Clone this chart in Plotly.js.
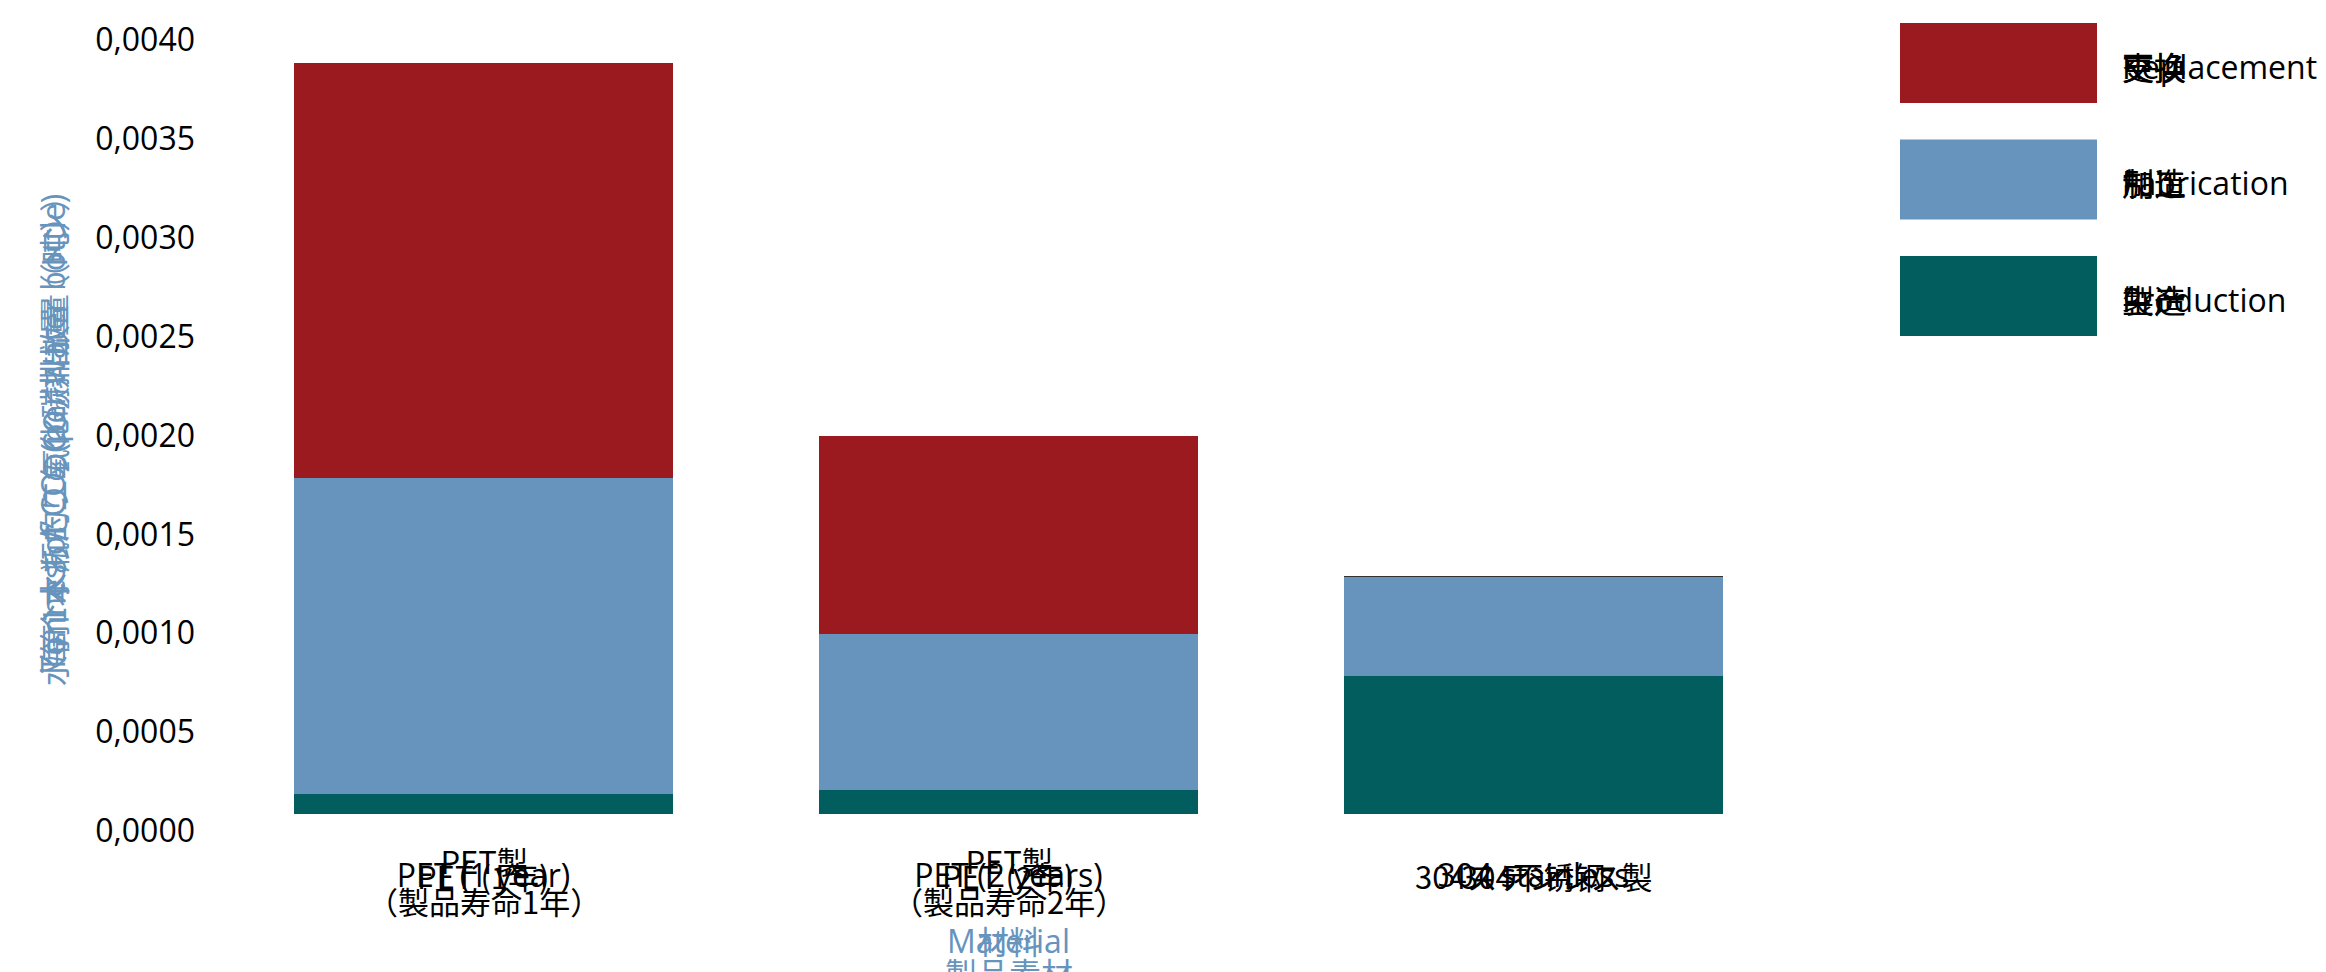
<!DOCTYPE html>
<html>
<head>
<meta charset="utf-8">
<script src="https://cdn.plot.ly/plotly-3.0.1.min.js"></script>
<style>
html,body{margin:0;padding:0;background:#fff;}
#chart{width:2326px;height:972px;}
</style>
</head>
<body>
<div id="chart"></div>
<script>
// ---- data ----
const categories = ["PET (1 year)", "PET (2 years)", "304 stainless"];
const categoriesZh = ["PET (1年)", "PET (2年)", "304不锈钢"];
const categoriesJa = ["PET製<br>（製品寿命1年）", "PET製<br>（製品寿命2年）", "304ステンレス製"];
const production  = [0.00010, 0.00012, 0.00070];
const fabrication = [0.00160, 0.00079, 0.00050];
const replacement = [0.00210, 0.00100, 0.000006];
const seriesNames   = ["Replacement", "Fabrication", "Production"];
const seriesNamesZh = ["更换", "制造", "生产"];
const seriesNamesJa = ["交換", "加工", "製造"];
const yTitle   = "Tonnes of CO₂ (per water bottle)";
const yTitleZh = "每个水瓶的二氧化碳排放量（吨）";
const yTitleJa = "水筒1本あたりのCO₂排出量（トン）";
const xTitle   = "Material";
const xTitleZh = "材料";
const xTitleJa = "製品素材";

const colors = {Replacement: "#9B1A1F", Fabrication: "#6794BD", Production: "#015D5E"};
const W = 2326, H = 972;
const M = {l: 221, r: 530, t: 23, b: 158};

const latin = "Open Sans, Noto Sans, sans-serif";
const cjkJa = "Noto Sans CJK JP, sans-serif";
const cjkZh = "Noto Sans CJK SC, sans-serif";
const titleBlue = "#6794BD";

const traces = [
  {type: "bar", name: "Production", x: categories, y: production,
   marker: {color: colors.Production, line: {width: 0}}, hoverinfo: "none"},
  {type: "bar", name: "Fabrication", x: categories, y: fabrication,
   marker: {color: colors.Fabrication, line: {width: 0}}, hoverinfo: "none"},
  {type: "bar", name: "Replacement", x: categories, y: replacement,
   marker: {color: categories.map((c, i) => i === 2 ? "#333333" : colors.Replacement), line: {width: 0}}, hoverinfo: "none"}
];

const plotW = W - M.l - M.r, plotH = H - M.t - M.b;
const px2x = px => (px - M.l) / plotW;
const px2y = py => (H - M.b - py) / plotH;

const annotations = [];
const shapes = [];
// x tick label overlays
categories.forEach((c, i) => {
  annotations.push({xref: "x", yref: "paper", x: c, y: px2y(875), text: categoriesZh[i],
    showarrow: false, font: {family: cjkZh, size: 31, color: "#000"}, xanchor: "center", yanchor: "middle"});
  annotations.push({xref: "x", yref: "paper", x: c, y: px2y(i === 2 ? 875 : 880), text: categoriesJa[i],
    showarrow: false, font: {family: cjkJa, size: 31, color: "#000"}, xanchor: "center", yanchor: "middle"});
});
// axis title overlays
annotations.push({xref: "paper", yref: "paper", x: 0.5, y: px2y(940), text: xTitleZh,
  showarrow: false, font: {family: cjkZh, size: 32, color: titleBlue}, xanchor: "center", yanchor: "middle"});
annotations.push({xref: "paper", yref: "paper", x: 0.5, y: px2y(972), text: xTitleJa,
  showarrow: false, font: {family: cjkJa, size: 32, color: titleBlue}, xanchor: "center", yanchor: "middle"});
annotations.push({xref: "paper", x: px2x(52), yref: "paper", y: px2y(434), text: yTitleZh, textangle: -90,
  showarrow: false, font: {family: cjkZh, size: 31, color: titleBlue}, xanchor: "center", yanchor: "middle"});
annotations.push({xref: "paper", x: px2x(52), yref: "paper", y: px2y(434), text: yTitleJa, textangle: -90,
  showarrow: false, font: {family: cjkJa, size: 31, color: titleBlue}, xanchor: "center", yanchor: "middle"});
annotations.push({xref: "paper", x: px2x(52), yref: "paper", y: px2y(434), text: yTitle, textangle: -90,
  showarrow: false, font: {family: latin, size: 32, color: titleBlue}, xanchor: "center", yanchor: "middle"});
annotations.push({xref: "paper", yref: "paper", x: 0.5, y: px2y(940), text: xTitle,
  showarrow: false, font: {family: latin, size: 32, color: titleBlue}, xanchor: "center", yanchor: "middle"});

// custom legend (large swatches)
seriesNames.forEach((n, i) => {
  const top = 23 + i * 116.5, bot = top + 80;
  shapes.push({type: "rect", xref: "paper", yref: "paper", x0: px2x(1900), x1: px2x(2097),
    y0: px2y(bot), y1: px2y(top), fillcolor: colors[n], line: {width: 0}, layer: "above"});
  const cy = px2y((top + bot) / 2 + 3);
  annotations.push({xref: "paper", yref: "paper", x: px2x(2120), y: cy, text: n, showarrow: false,
    xanchor: "left", yanchor: "middle", font: {family: latin, size: 32, color: "#000"}});
  annotations.push({xref: "paper", yref: "paper", x: px2x(2120), y: cy, text: seriesNamesZh[i], showarrow: false,
    xanchor: "left", yanchor: "middle", font: {family: cjkZh, size: 32, color: "#000"}});
  annotations.push({xref: "paper", yref: "paper", x: px2x(2120), y: cy, text: seriesNamesJa[i], showarrow: false,
    xanchor: "left", yanchor: "middle", font: {family: cjkJa, size: 32, color: "#000"}});
});

const layout = {
  width: W, height: H,
  margin: M,
  paper_bgcolor: "#fff", plot_bgcolor: "#fff",
  barmode: "stack", bargap: 0.278,
  showlegend: false,
  separators: ",.",
  font: {family: latin, size: 32, color: "#000"},
  xaxis: {
    type: "category", range: [-0.5, 2.5],
    showgrid: false, zeroline: false, showline: false, ticks: "",
    ticklabelstandoff: 40,
    tickfont: {family: latin, size: 32, color: "#000"}
  },
  yaxis: {
    range: [0, 0.0040001], dtick: 0.0005, tick0: 0, tickformat: ".4f",
    showgrid: false, zeroline: false, showline: false, ticks: "",
    ticklabelshift: 17, ticklabelstandoff: 25,
    tickfont: {family: latin, size: 32, color: "#000"}
  },
  shapes: shapes,
  annotations: annotations
};

Plotly.newPlot("chart", traces, layout, {displayModeBar: false, staticPlot: true});
</script>
</body>
</html>
